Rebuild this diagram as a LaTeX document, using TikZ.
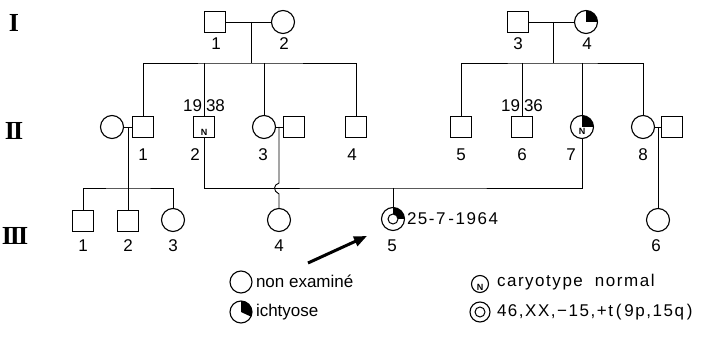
\documentclass[tikz,border=0pt]{standalone}
\usepackage{fontspec}
\setmainfont{Liberation Sans}
\newfontfamily\romfont{Liberation Serif}
\newfontfamily\widefont[LetterSpace=9]{Liberation Sans}
\usetikzlibrary{arrows.meta}
% black quarter (upper right) of a round node: #1 node name, #2 radius
\newcommand\quartfill[2]{\fill (#1.center) -- ++(#2,0) arc[start angle=0,end angle=-90,radius=#2] -- cycle;}
\begin{document}
\begin{tikzpicture}[x=1pt,y=-1pt,
  every node/.style={inner sep=0pt, outer sep=0pt},
  conn/.style={line width=0.9pt},
  male/.style={draw, rectangle, minimum size=21pt, line width=1.1pt},
  female/.style={draw, circle, minimum size=23pt, line width=1.1pt},
  num/.style={font=\fontsize{17}{17}\selectfont},
  gen/.style={font=\romfont\bfseries\fontsize{26}{26}\selectfont},
  nmark/.style={font=\bfseries\fontsize{9}{9}\selectfont},
  leg/.style={font=\fontsize{17}{17}\selectfont, anchor=west},
  wideleg/.style={font=\widefont\fontsize{17}{17}\selectfont, anchor=west},
]
\useasboundingbox (0,0) rectangle (710,344);

% generation numerals
\node[gen] (gI) at (14,23) {I};
\node[gen] (gII) at (14,131) {I\kern-2pt I};
\node[gen] (gIII) at (15,236) {I\kern-2pt I\kern-2pt I};

% generation I
\node[male] (I1) at (215,22) {};
\node[female] (I2) at (283,22) {};
\node[male] (I3) at (518,22) {};
\node[female] (I4) at (586,22) {};
\quartfill{I4}{11.5}
\node[num] (tI1) at (216,44) {1};
\node[num] (tI2) at (284,44) {2};
\node[num] (tI3) at (518,44) {3};
\node[num] (tI4) at (587,44) {4};

% generation II
\node[female] (II1w) at (112,127) {};
\node[male] (II1) at (143,127) {};
\node[male] (II2) at (204,127) {};
\node[nmark] (N2) at ([yshift=-5pt]II2.center) {N};
\node[female] (II3) at (264,127) {};
\node[male] (II3h) at (294,127) {};
\node[male] (II4) at (356,127) {};
\node[male] (II5) at (461,127) {};
\node[male] (II6) at (522,127) {};
\node[female] (II7) at (582,127) {};
\quartfill{II7}{11.5}
\node[nmark] (N7) at ([yshift=-4pt]II7.center) {N};
\node[female] (II8) at (643,127) {};
\node[male] (II8h) at (672,127) {};

\foreach \n/\x in {1/143,2/195,3/263,4/352,5/461,6/522,7/571,8/643}
  \node[num] (tII\n) at (\x,155) {\n};

\node[num, anchor=east] (y2a) at (202,106) {19};
\node[num, anchor=west] (y2b) at (206,106) {38};
\node[num, anchor=east] (y6a) at (520,106) {19};
\node[num, anchor=west] (y6b) at (524,106) {36};

% generation III
\node[male] (III1) at (83,221) {};
\node[male] (III2) at (128,221) {};
\node[female] (III3) at (173,220) {};
\node[female] (III4) at (279,220) {};
\node[female] (III5) at (393,219) {};
\quartfill{III5}{11.5}
\draw[fill=white, line width=1pt] (III5.center) circle[radius=5];
\node[female] (III6) at (658,220) {};

\foreach \n/\x in {1/83,2/128,3/173,4/279,5/392,6/656}
  \node[num] (tIII\n) at (\x,246) {\n};
\node[wideleg] (date) at (407,219) {25-7\,-1964};

% couples and sibships, generation I
\draw[conn] (I1) -- (I2);
\draw[conn] (I3) -- (I4);
\coordinate (mI12) at (251,22);
\coordinate (sA) at (251,63);
\coordinate (mI34) at (553,22);
\coordinate (sB) at (553,63);
\draw[conn] (mI12) -- (sA);
\draw[conn] (II1.north) |- (sA) -| (II4.north);
\draw[conn] (II2.north) -- (II2.north |- sA);
\draw[conn] (II3.north) -- (II3.north |- sA);
\draw[conn] (mI34) -- (sB);
\draw[conn] (II5.north) |- (sB) -| (II8.north);
\draw[conn] (II6.north) -- (II6.north |- sB);
\draw[conn] (II7.north) -- (II7.north |- sB);

% couples and sibships, generation II
\draw[conn] (II1w) -- (II1);
\draw[conn] (II3) -- (II3h);
\draw[conn] (II8) -- (II8h);
\coordinate (mII1) at (128,127);
\coordinate (sC) at (128,188);
\draw[conn] (mII1) -- (sC);
\draw[conn] (III1.north) |- (sC) -| (III3.north);
\draw[conn] (sC) -- (III2.north);

\coordinate (mII3) at (279,127);
\coordinate (hopA) at (279,183);
\coordinate (hopB) at (279,194);
\draw[conn] (mII3) -- (hopA) .. controls (273,185) and (273,191) .. (hopB) -- (III4.north);

\coordinate (sD) at (393,188);
\draw[conn] (II2.south) |- (sD) -| (II7.south);
\draw[conn] (sD) -- (III5.north);

\coordinate (mII8) at (658,127);
\draw[conn] (mII8) -- (III6.north);

% proband arrow
\coordinate (arrT) at (308,263);
\coordinate (arrH) at (367,236);
\draw[line width=3pt, -{Triangle[length=13pt,width=10pt]}] (arrT) -- (arrH);

% key
\node[female, minimum size=22pt] (Lne) at (241,282) {};
\node[leg] (tLne) at (256,281) {non examiné};
\node[female, minimum size=22pt] (Lich) at (241,312) {};
\fill (Lich.center) -- ++(11,0) arc[start angle=0,end angle=-90,radius=11] -- cycle;
\fill (Lich.center) -- ++(11,0) arc[start angle=0,end angle=25,radius=11] -- cycle;
\node[leg] (tLich) at (256,312) {ichtyose};
\node[female, minimum size=17pt] (LN) at (480,284) {};
\node[nmark] (LNn) at ([yshift=-3pt]LN.center) {N};
\node[wideleg] (tLN) at (497,282) {caryotype\hspace{12pt}normal};
\node[female, minimum size=20pt] (Ltr) at (480,312) {};
\draw[line width=1pt] (Ltr.center) circle[radius=5];
\node[wideleg] (tLtr) at (497,312) {46,XX,−15,+t\,(\,9p,15q\,)};
\end{tikzpicture}
\end{document}
